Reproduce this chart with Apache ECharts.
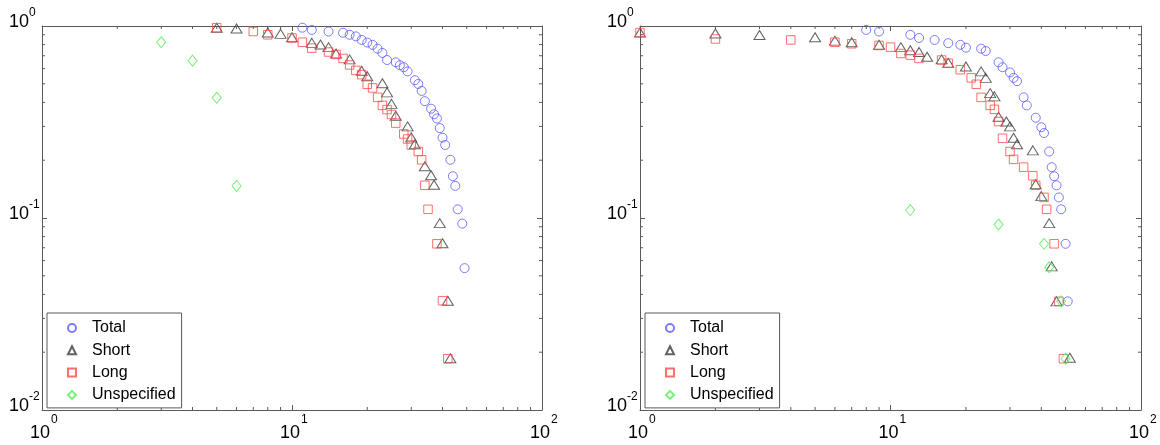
<!DOCTYPE html>
<html>
<head>
<meta charset="utf-8">
<script src="https://cdn.jsdelivr.net/npm/echarts@6/dist/echarts.min.js"></script>
<style>
  html, body { margin: 0; padding: 0; background: #fff; }
  #chart { width: 1160px; height: 445px; }
</style>
</head>
<body>
<div id="chart"></div>
<script>
// Complementary cumulative fractions vs. duration, two panels, log-log.
const seriesNames = ['Total', 'Short', 'Long', 'Unspecified'];

// Left panel: [duration, fraction]
const leftTotal = [[11,0.98],[12,0.954],[14,0.936],[16,0.922],[17,0.9],[18,0.883],[19,0.846],[20,0.82],[21,0.798],[22,0.762],[23,0.724],[24,0.665],[26,0.647],[27,0.625],[28,0.61],[29,0.58],[31,0.522],[32,0.499],[33,0.459],[34,0.406],[36,0.371],[37,0.347],[38,0.33],[39,0.294],[40,0.262],[41,0.24],[43,0.201],[44,0.165],[45,0.147],[46,0.111],[48,0.0935],[49,0.0548]];
const leftShort = [[5,0.98],[6,0.97],[8,0.925],[9,0.91],[10,0.873],[12,0.817],[13,0.801],[14,0.776],[15,0.719],[17,0.67],[19,0.585],[20,0.547],[23,0.503],[24,0.451],[25,0.393],[26,0.341],[29,0.3],[30,0.263],[31,0.242],[34,0.186],[36,0.167],[37,0.149],[39,0.094],[40,0.0739],[42,0.0371],[43,0.0186]];
const leftLong = [[5,0.98],[7,0.936],[8,0.9],[10,0.866],[11,0.823],[12,0.767],[14,0.732],[15,0.711],[16,0.678],[17,0.627],[18,0.587],[19,0.558],[20,0.497],[21,0.476],[22,0.425],[23,0.386],[24,0.367],[25,0.346],[26,0.312],[28,0.274],[29,0.258],[30,0.24],[32,0.222],[33,0.201],[34,0.148],[35,0.111],[38,0.0734],[40,0.0371],[42,0.0185]];
const leftUnspecified = [[3,0.823],[4,0.66],[5,0.423],[6,0.147]];

// Right panel: [duration, fraction]
const rightTotal = [[8,0.954],[9,0.936],[12,0.9],[13,0.866],[15,0.846],[17,0.814],[19,0.798],[20,0.771],[23,0.762],[24,0.741],[27,0.647],[28,0.61],[30,0.573],[31,0.537],[32,0.516],[34,0.425],[35,0.386],[38,0.333],[40,0.297],[41,0.277],[43,0.222],[44,0.184],[45,0.165],[46,0.148],[47,0.128],[48,0.111],[50,0.0734],[51,0.0368]];
const rightShort = [[1,0.925],[2,0.914],[3,0.897],[5,0.873],[6,0.839],[7,0.823],[9,0.798],[11,0.776],[12,0.747],[13,0.732],[14,0.691],[16,0.67],[17,0.644],[20,0.615],[23,0.58],[24,0.537],[25,0.447],[26,0.43],[27,0.337],[29,0.318],[30,0.3],[31,0.262],[32,0.242],[37,0.225],[38,0.15],[40,0.13],[43,0.094],[44,0.056],[46,0.0368],[52,0.0187]];
const rightLong = [[1,0.925],[2,0.856],[4,0.846],[6,0.823],[7,0.808],[9,0.792],[10,0.776],[11,0.719],[12,0.705],[13,0.678],[16,0.665],[17,0.64],[19,0.592],[21,0.537],[22,0.497],[23,0.425],[25,0.386],[26,0.368],[27,0.318],[28,0.26],[30,0.222],[31,0.202],[34,0.184],[37,0.166],[38,0.148],[41,0.128],[42,0.111],[45,0.0734],[47,0.0368],[49,0.0185]];
const rightUnspecified = [[12,0.11],[27,0.0925],[41,0.0734],[43,0.0554],[48,0.0368],[50,0.0185]];

// Axis ranges and minor tick positions
const xRange = [1, 100];
const yRange = [0.01, 1];
const xMinorTicks = [2,3,4,5,6,7,8,9,20,30,40,50,60,70,80,90];
const yMinorTicks = [0.02,0.03,0.04,0.05,0.06,0.07,0.08,0.09,0.2,0.3,0.4,0.5,0.6,0.7,0.8,0.9];

const FONT = '"Liberation Sans", Arial, Helvetica, sans-serif';
const AXIS_COLOR = '#5a5a5a';
const styles = {
  Total:       { symbol: 'circle',   size: 9,       color: '#5b5bff' },
  Short:       { symbol: 'triangle', size: [11, 9], color: '#3a3a3a' },
  Long:        { symbol: 'rect',     size: 8.5,     color: '#ff4a4a' },
  Unspecified: { symbol: 'diamond',  size: [9, 11], color: '#55ee55' }
};

// Tick labels are drawn as a base "10" and a separate raised exponent
const baseLabel = () => '10';
const expLabel = v => String(Math.round(Math.log10(v)));

const panels = [
  { grid: { left: 42, top: 15, width: 500, height: 395 },
    data: { Total: leftTotal, Short: leftShort, Long: leftLong, Unspecified: leftUnspecified },
    legendLeft: 47 },
  { grid: { left: 640, top: 15, width: 501, height: 395 },
    data: { Total: rightTotal, Short: rightShort, Long: rightLong, Unspecified: rightUnspecified },
    legendLeft: 645 }
];

const option = {
  animation: false,
  backgroundColor: '#fff',
  grid: [], xAxis: [], yAxis: [], series: [], legend: []
};

const lineOn = { show: true, lineStyle: { color: AXIS_COLOR, width: 1 } };
const tickOn = { show: true, inside: true, length: 5, lineStyle: { color: AXIS_COLOR } };

panels.forEach((p, i) => {
  option.grid.push(Object.assign({ containLabel: false }, p.grid));
  const common = { type: 'log', logBase: 10, gridIndex: i, splitLine: { show: false }, minorTick: { show: false } };
  const xBase = Object.assign({}, common, { min: xRange[0], max: xRange[1] });
  const yBase = Object.assign({}, common, { min: yRange[0], max: yRange[1] });

  const xMain = option.xAxis.length;
  option.xAxis.push(Object.assign({}, xBase, {
    position: 'bottom', axisLine: lineOn, axisTick: tickOn,
    axisLabel: { show: true, margin: 14, formatter: baseLabel, fontSize: 18, lineHeight: 18,
                 fontFamily: FONT, color: '#000', verticalAlign: 'top', padding: [0, 4, 0, 0] }
  }));
  option.xAxis.push(Object.assign({}, xBase, {
    position: 'top', axisLine: lineOn, axisTick: tickOn, axisLabel: { show: false }
  }));
  option.xAxis.push(Object.assign({}, xBase, {
    position: 'bottom', axisLine: { show: false }, axisTick: { show: false },
    axisLabel: { show: true, margin: 4, formatter: expLabel, fontSize: 12, lineHeight: 12,
                 fontFamily: FONT, color: '#000', verticalAlign: 'top', align: 'left', padding: [0, 0, 0, 9] }
  }));

  const yMain = option.yAxis.length;
  option.yAxis.push(Object.assign({}, yBase, {
    position: 'left', axisLine: lineOn, axisTick: tickOn,
    axisLabel: { show: true, margin: 13, formatter: baseLabel, fontSize: 18, lineHeight: 8,
                 fontFamily: FONT, color: '#000', verticalAlign: 'bottom', align: 'right' }
  }));
  option.yAxis.push(Object.assign({}, yBase, {
    position: 'right', axisLine: lineOn, axisTick: tickOn, axisLabel: { show: false }
  }));
  option.yAxis.push(Object.assign({}, yBase, {
    position: 'left', axisLine: { show: false }, axisTick: { show: false },
    axisLabel: { show: true, margin: 13, formatter: expLabel, fontSize: 12, lineHeight: 26,
                 fontFamily: FONT, color: '#000', verticalAlign: 'bottom', align: 'left' }
  }));

  // Minor ticks on all four edges, placed through the axis scales
  option.series.push({
    type: 'custom', xAxisIndex: xMain, yAxisIndex: yMain, silent: true, clip: false,
    data: xMinorTicks.map(v => [v, 1]),
    renderItem: (params, api) => {
      const cs = params.coordSys;
      const x = api.coord([api.value(0), 1])[0];
      const st = { stroke: AXIS_COLOR, lineWidth: 1 };
      return { type: 'group', children: [
        { type: 'line', shape: { x1: x, y1: cs.y + cs.height, x2: x, y2: cs.y + cs.height - 3 }, style: st },
        { type: 'line', shape: { x1: x, y1: cs.y, x2: x, y2: cs.y + 3 }, style: st }
      ] };
    }
  });
  option.series.push({
    type: 'custom', xAxisIndex: xMain, yAxisIndex: yMain, silent: true, clip: false,
    data: yMinorTicks.map(v => [1, v]),
    renderItem: (params, api) => {
      const cs = params.coordSys;
      const y = api.coord([1, api.value(1)])[1];
      const st = { stroke: AXIS_COLOR, lineWidth: 1 };
      return { type: 'group', children: [
        { type: 'line', shape: { x1: cs.x, y1: y, x2: cs.x + 3, y2: y }, style: st },
        { type: 'line', shape: { x1: cs.x + cs.width, y1: y, x2: cs.x + cs.width - 3, y2: y }, style: st }
      ] };
    }
  });

  seriesNames.forEach(name => {
    const s = styles[name];
    option.series.push({
      type: 'scatter', name: name, xAxisIndex: xMain, yAxisIndex: yMain,
      data: p.data[name], symbol: s.symbol, symbolSize: s.size, clip: false,
      itemStyle: { color: 'rgba(255,255,255,0)', borderColor: s.color, borderWidth: 1 },
      emphasis: { disabled: true }
    });
  });

  option.legend.push({
    left: p.legendLeft, top: 313, orient: 'vertical',
    data: seriesNames.map(n => ({ name: n, icon: styles[n].symbol })),
    itemWidth: 8, itemHeight: 8, itemGap: 6.3,
    padding: [7, 6, 5, 20],
    borderColor: AXIS_COLOR, borderWidth: 1, backgroundColor: '#fff',
    selectedMode: false,
    formatter: n => '{t|' + n + '}',
    textStyle: { rich: { t: { fontSize: 16, lineHeight: 16, fontFamily: FONT, color: '#000', padding: [0, 0, 0, 11] } } }
  });
});

const chart = echarts.init(document.getElementById('chart'), null, { renderer: 'canvas' });
chart.setOption(option);
</script>
</body>
</html>
